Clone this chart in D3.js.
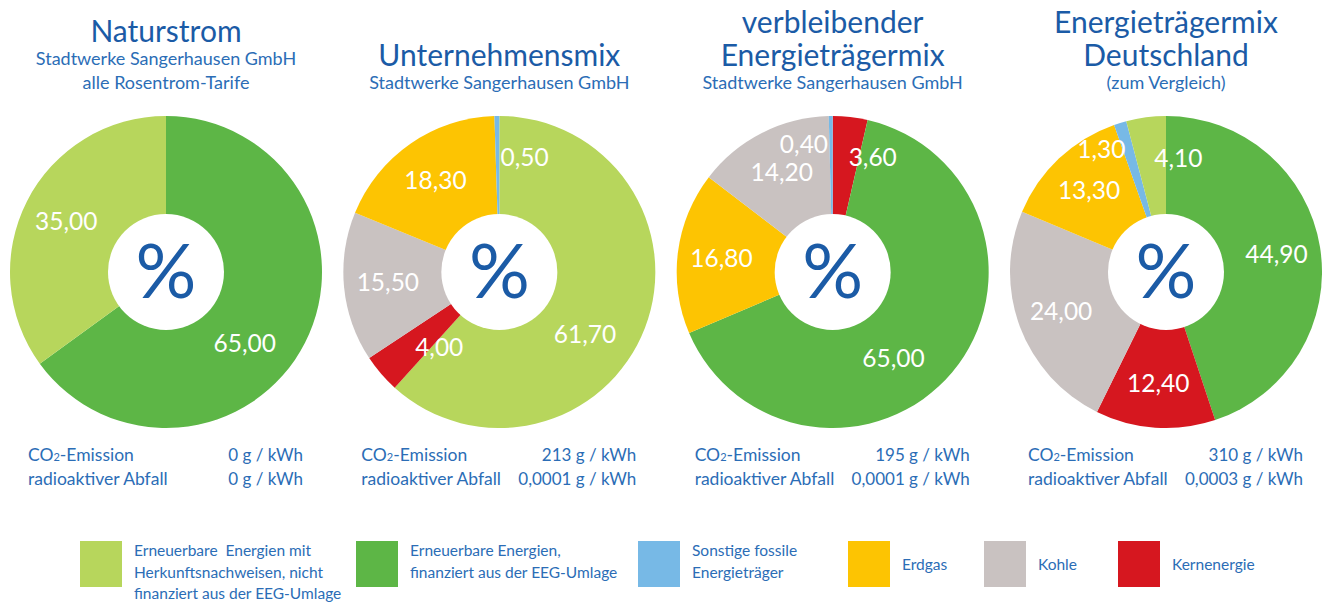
<!DOCTYPE html>
<html>
<head>
<meta charset="utf-8">
<script src="https://cdn.jsdelivr.net/npm/d3@7"></script>
<style>
  body { margin: 0; background: #fff; }
  svg { display: block; font-family: Lato, "Open Sans", sans-serif; }
</style>
</head>
<body>
<svg id="chart"></svg>
<script>
// Kategorien (Reihenfolge der Legende)
const categoryKeys = ["hkn", "eeg", "fossil", "erdgas", "kohle", "kern"];
const categoryColors = ["#b7d65c", "#5db646", "#77b9e6", "#fdc402", "#c9c2c1", "#d6171f"];
const legendLines = [
    ["Erneuerbare  Energien mit", "Herkunftsnachweisen, nicht", "finanziert aus der EEG-Umlage"],
    ["Erneuerbare Energien,", "finanziert aus der EEG-Umlage"],
    ["Sonstige fossile", "Energieträger"],
    ["Erdgas"],
    ["Kohle"],
    ["Kernenergie"]
];

// Diagramme
const chartNames = ["naturstrom", "unternehmen", "verbleibend", "deutschland"];
const chartTitles = [
    ["Naturstrom"],
    ["Unternehmensmix"],
    ["verbleibender", "Energieträgermix"],
    ["Energieträgermix", "Deutschland"]
];
const chartSubtitles = [
    ["Stadtwerke Sangerhausen GmbH", "alle Rosentrom-Tarife"],
    ["Stadtwerke Sangerhausen GmbH"],
    ["Stadtwerke Sangerhausen GmbH"],
    ["(zum Vergleich)"]
];

// Segmente im Uhrzeigersinn ab 12 Uhr
const naturstromKeys = ["eeg", "hkn"];
const naturstromValues = [65.0, 35.0];
const unternehmenKeys = ["hkn", "kern", "kohle", "erdgas", "fossil"];
const unternehmenValues = [61.7, 4.0, 15.5, 18.3, 0.5];
const verbleibendKeys = ["kern", "eeg", "erdgas", "kohle", "fossil"];
const verbleibendValues = [3.6, 65.0, 16.8, 14.2, 0.4];
const deutschlandKeys = ["eeg", "kern", "kohle", "erdgas", "fossil", "hkn"];
const deutschlandValues = [44.9, 12.4, 24.0, 13.3, 1.3, 4.1];

const co2Values = ["0 g / kWh", "213 g / kWh", "195 g / kWh", "310 g / kWh"];
const wasteValues = ["0 g / kWh", "0,0001 g / kWh", "0,0001 g / kWh", "0,0003 g / kWh"];

const sliceKeys = [naturstromKeys, unternehmenKeys, verbleibendKeys, deutschlandKeys];
const sliceValues = [naturstromValues, unternehmenValues, verbleibendValues, deutschlandValues];

const width = 1322, height = 604;
const titleColor = "#1b5ba6";
const textColor = "#2b6db6";

const svg = d3.select("#chart").attr("width", width).attr("height", height);

const color = d3.scaleOrdinal().domain(categoryKeys).range(categoryColors);
const xScale = d3.scalePoint().domain(chartNames).range([166, 1166]);
const cy = 272;
const outerR = 156, innerR = 58;

const de = d3.formatLocale({ decimal: ",", thousands: ".", grouping: [3], currency: ["", " €"] });
const fmt = de.format(".2f");

const pie = d3.pie().sort(null).value(d => d.value);
const arc = d3.arc().innerRadius(0).outerRadius(outerR);

// Beschriftung: große Segmente etwas nach unten gedreht, kleine seitlich daneben
function labelPos(d, i, arr) {
    const share = d.data.value;
    let a = (d.startAngle + d.endAngle) / 2;
    let r = 112;
    let anchor = "middle";
    let dx = 0;
    if (share > 50) { a += Math.PI / 12; r = 106; }
    if (share < 5) {
        const next = arr[(i + 1) % arr.length];
        anchor = next.data.value < 5 ? "end" : "start";
        dx = anchor === "end" ? -3 : 3;
        r = anchor === "end" ? 128 : 115;
    }
    return { x: r * Math.sin(a) + dx, y: -r * Math.cos(a), anchor };
}

chartNames.forEach((name, i) => {
    const cx = xScale(name);
    const data = sliceKeys[i].map((k, j) => ({ key: k, value: sliceValues[i][j] }));
    const arcs = pie(data);
    const g = svg.append("g").attr("transform", `translate(${cx},${cy})`);

    g.selectAll("path.slice")
        .data(arcs)
        .enter()
        .append("path")
        .attr("class", "slice")
        .attr("d", arc)
        .attr("fill", d => color(d.data.key));

    g.append("circle").attr("r", innerR).attr("fill", "#fff");

    g.append("text")
        .attr("text-anchor", "middle")
        .attr("y", 26)
        .style("font-size", "76px")
        .style("fill", titleColor)
        .text("%");

    const pos = arcs.map((d, j) => labelPos(d, j, arcs));
    g.selectAll("text.val")
        .data(arcs)
        .enter()
        .append("text")
        .attr("class", "val")
        .attr("x", (d, j) => pos[j].x)
        .attr("y", (d, j) => pos[j].y)
        .attr("text-anchor", (d, j) => pos[j].anchor)
        .attr("dy", "0.35em")
        .style("font-size", "24.5px")
        .style("fill", "#fff")
        .text(d => fmt(d.data.value));

    // Titel: letzte Unterzeile auf y=89
    const subs = chartSubtitles[i];
    const titles = chartTitles[i];
    const subTop = 89 - (subs.length - 1) * 24;
    subs.forEach((s, j) => {
        svg.append("text")
            .attr("x", cx).attr("y", subTop + j * 24)
            .attr("text-anchor", "middle")
            .style("font-size", "18px")
            .style("fill", textColor)
            .text(s);
    });
    const titleBottom = subTop - 23;
    titles.forEach((t, j) => {
        svg.append("text")
            .attr("x", cx).attr("y", titleBottom - (titles.length - 1 - j) * 33)
            .attr("text-anchor", "middle")
            .style("font-size", "30px")
            .style("fill", titleColor)
            .text(t);
    });

    // Emissionen
    const rows = [["CO", "2", "-Emission", co2Values[i]], ["radioaktiver Abfall", null, null, wasteValues[i]]];
    rows.forEach((r, j) => {
        const y = 461 + j * 24;
        const t = svg.append("text").attr("x", cx - 138).attr("y", y)
            .style("font-size", "17.5px").style("fill", textColor);
        t.append("tspan").text(r[0]);
        if (r[1]) {
            t.append("tspan").style("font-size", "11px").text(r[1]);
            t.append("tspan").text(r[2]);
        }
        svg.append("text").attr("x", cx + 137).attr("y", y)
            .attr("text-anchor", "end")
            .style("font-size", "17px").style("fill", textColor)
            .text(r[3]);
    });
});

// Legende
const legendX = [80, 356, 638, 848, 984, 1118];
const legend = svg.append("g");
categoryKeys.forEach((k, i) => {
    const lg = legend.append("g").attr("transform", `translate(${legendX[i]},541)`);
    lg.append("rect").attr("width", 42).attr("height", 46).attr("fill", color(k));
    const lines = legendLines[i];
    const y0 = lines.length === 1 ? 29 : 15;
    lines.forEach((l, j) => {
        lg.append("text")
            .attr("x", 54).attr("y", y0 + j * 21.5)
            .style("font-size", "15.5px")
            .style("fill", textColor)
            .attr("xml:space", "preserve")
            .text(l);
    });
});
</script>
</body>
</html>
